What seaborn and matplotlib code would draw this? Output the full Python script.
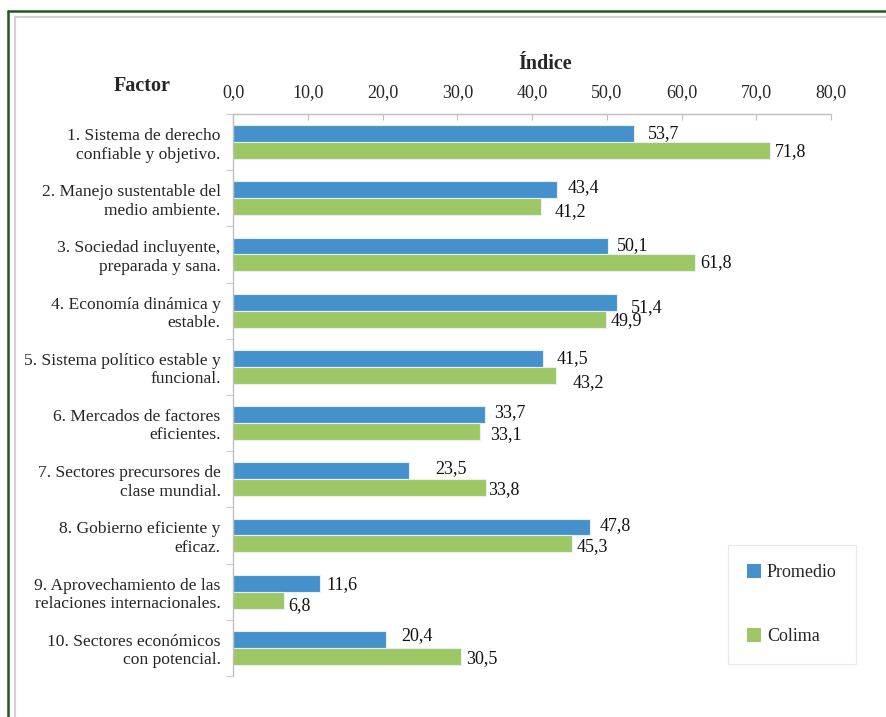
import numpy as np
import pandas as pd
import matplotlib
matplotlib.use('Agg')
import matplotlib.pyplot as plt
from matplotlib.lines import Line2D
import seaborn as sns

# Data
factores = [
    '1. Sistema de derecho\nconfiable y objetivo.',
    '2. Manejo sustentable del\nmedio ambiente.',
    '3. Sociedad incluyente,\npreparada y sana.',
    '4. Economía dinámica y\nestable.',
    '5. Sistema político estable y\nfuncional.',
    '6. Mercados de factores\neficientes.',
    '7. Sectores precursores de\nclase mundial.',
    '8. Gobierno eficiente y\neficaz.',
    '9. Aprovechamiento de las\nrelaciones internacionales.',
    '10. Sectores económicos\ncon potencial.',
]
promedio = [53.7, 43.4, 50.1, 51.4, 41.5, 33.7, 23.5, 47.8, 11.6, 20.4]
colima = [71.8, 41.2, 61.8, 49.9, 43.2, 33.1, 33.8, 45.3, 6.8, 30.5]
series = ['Promedio', 'Colima']
xticks = [0, 10, 20, 30, 40, 50, 60, 70, 80]

# label offsets (points) to mimic the hand-placed labels of the original
off_prom = [(10, 0), (7, 1.5), (7, 0), (9.5, -3.5), (10, 0), (6.5, 1.5), (19, 1.5), (6.5, 1), (4.5, -1), (11.5, 3)]
off_col = [(3.5, -1), (10, -3.5), (3.5, 0), (3.5, -1), (12, -5), (7, -2), (1.5, -1.5), (3.5, -2), (3, -4), (3.5, -1.5)]

df = pd.DataFrame({
    'Factor': factores * 2,
    'Serie': [series[0]] * len(factores) + [series[1]] * len(factores),
    'Indice': promedio + colima,
})

sns.set_style('white')
plt.rcParams['font.family'] = ['Liberation Serif', 'DejaVu Serif']

fig = plt.figure(figsize=(8.87, 7.17), dpi=100)
ax = fig.add_axes([0.2627, 0.0572, 0.6742, 0.7838])

colors = {'Promedio': '#4591cc', 'Colima': '#9cc764'}
sns.barplot(data=df, y='Factor', x='Indice', hue='Serie', orient='h',
            palette=colors, saturation=1, width=0.6, edgecolor='#e8eef5',
            linewidth=0.8, ax=ax, legend=False)

# value labels
for container, vals, offs in zip(ax.containers, [promedio, colima], [off_prom, off_col]):
    for bar, v, (dx, dy) in zip(container, vals, offs):
        ax.annotate(f'{v:.1f}'.replace('.', ','),
                    (bar.get_width(), bar.get_y() + bar.get_height() / 2),
                    xytext=(dx, dy), textcoords='offset points',
                    ha='left', va='center', fontsize=13, color='#111111')

ax.set_xlim(0, 80)
ax.set_ylim(9.5, -0.5)
ax.xaxis.tick_top()
ax.set_xticks(xticks)
ax.set_xticklabels([f'{t:.1f}'.replace('.', ',') for t in xticks], fontsize=13)
ax.tick_params(axis='x', direction='in', length=4, color='#bfbfbf', pad=9)
ax.set_xlabel('')
ax.set_ylabel('')

ax.set_yticks(range(len(factores)))
ax.set_yticklabels(factores, fontsize=12.6)
ax.set_yticks(np.arange(-0.5, len(factores), 1), minor=True)
ax.tick_params(axis='y', which='major', length=0, pad=9)
ax.tick_params(axis='y', which='minor', length=5, color='#bfbfbf', left=True)

for s in ['right', 'bottom']:
    ax.spines[s].set_visible(False)
for s in ['top', 'left']:
    ax.spines[s].set_color('#bfbfbf')
    ax.spines[s].set_linewidth(1)

fig.text(545 / 887, 1 - 64 / 717, 'Índice', ha='center', va='center',
         fontsize=14.5, fontweight='bold')
fig.text(142 / 887, 1 - 86 / 717, 'Factor', ha='center', va='center',
         fontsize=14.5, fontweight='bold')

handles = [plt.Rectangle((0, 0), 1, 1, facecolor=colors[s], edgecolor='none') for s in series]
leg = fig.legend(handles, series, loc='upper left',
                 bbox_to_anchor=(728 / 887, 1 - 545 / 717), bbox_transform=fig.transFigure,
                 borderaxespad=0, fontsize=13, frameon=True, fancybox=False, borderpad=1.05,
                 labelspacing=2.6, handlelength=0.8, handleheight=0.8, handletextpad=0.3)
leg.get_frame().set_edgecolor('#e3e3e3')
leg.get_frame().set_linewidth(0.8)

# page frame
W, H = 887, 717
fig.add_artist(Line2D([8.5 / W, 1], [1 - 11 / H, 1 - 11 / H], color='#1f5a1f', lw=1.8, transform=fig.transFigure))
fig.add_artist(Line2D([8.5 / W, 8.5 / W], [0, 1 - 11 / H], color='#1f5a1f', lw=1.8, transform=fig.transFigure))
fig.add_artist(Line2D([15 / W, 1], [1 - 17 / H, 1 - 17 / H], color='#d0d0d0', lw=1.5, transform=fig.transFigure))
fig.add_artist(Line2D([15 / W, 15 / W], [0, 1 - 17 / H], color='#d0d0d0', lw=1.5, transform=fig.transFigure))

fig.savefig('out.png', dpi=100)
